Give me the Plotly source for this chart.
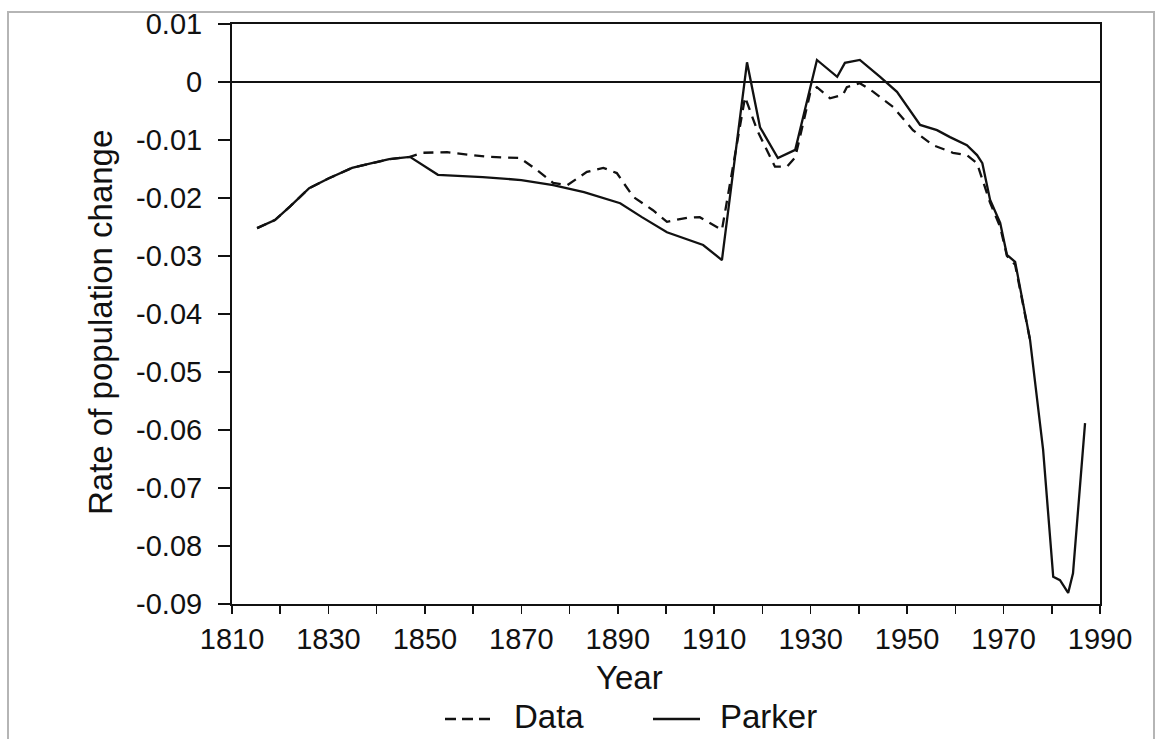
import plotly.graph_objects as go

# ---- data ----
parker_years = [1815.2, 1818.9, 1822, 1826, 1830.1, 1834.9, 1839, 1842.6, 1846.9, 1852.7,
                1862, 1870, 1876.6, 1883, 1890.5, 1895, 1900.2, 1907.7, 1911.6, 1916.8,
                1919.5, 1923.2, 1926.8, 1931.3, 1935.5, 1937.1, 1940.2, 1944.4, 1947.9,
                1952.7, 1956.2, 1958.9, 1962.4, 1964.5, 1965.6, 1967.2, 1969.3, 1970.7,
                1972.4, 1975.5, 1978.2, 1980.3, 1981.7, 1983.4, 1984.4, 1986.9]
parker_vals = [-0.0252, -0.0238, -0.0215, -0.0183, -0.0166, -0.0148, -0.0140, -0.0133, -0.0129, -0.0160,
               -0.0164, -0.0169, -0.0178, -0.0190, -0.0209, -0.0233, -0.0259, -0.0281, -0.0307, 0.0034,
               -0.0078, -0.0131, -0.0117, 0.0038, 0.0009, 0.0033, 0.0038, 0.0009, -0.0017,
               -0.0074, -0.0083, -0.0095, -0.0109, -0.0126, -0.0140, -0.0203, -0.0243, -0.0298,
               -0.0310, -0.0445, -0.0634, -0.0853, -0.0859, -0.0881, -0.0847, -0.0588]

data_years = [1815.2, 1818.9, 1822, 1826, 1830.1, 1834.9, 1839, 1842.6, 1846.9, 1849.6,
              1854.6, 1862.9, 1869.7, 1873.3, 1876.6, 1879.5, 1883.6, 1887, 1889.8, 1893.2,
              1897.3, 1900.2, 1904.4, 1907, 1911.6, 1916.4, 1918.9, 1922.6, 1925.1, 1926.8,
              1929.9, 1931.3, 1934, 1936.7, 1937.5, 1940.2, 1943, 1947.1, 1951.2, 1955.4,
              1959.5, 1962.4, 1964.5, 1967.2, 1969.3, 1970.7, 1972.4, 1975.5]
data_vals = [-0.0252, -0.0238, -0.0215, -0.0183, -0.0166, -0.0148, -0.0140, -0.0133, -0.0129, -0.0122,
             -0.0121, -0.0129, -0.0131, -0.0152, -0.0174, -0.0178, -0.0155, -0.0148, -0.0157, -0.0198,
             -0.0221, -0.0241, -0.0234, -0.0233, -0.0255, -0.0026, -0.0083, -0.0146, -0.0146, -0.0130,
             -0.0019, -0.0009, -0.0028, -0.0022, -0.0009, -0.0002, -0.0017, -0.0043, -0.0083, -0.0109,
             -0.0122, -0.0126, -0.0140, -0.0208, -0.0250, -0.0300, -0.0315, -0.0445]

series_names = ["Data", "Parker"]

x_tickvals = list(range(1810, 1991, 10))
x_ticktext = [str(v) if (v - 1810) % 20 == 0 else "" for v in x_tickvals]
y_tickvals = [0.01, 0, -0.01, -0.02, -0.03, -0.04, -0.05, -0.06, -0.07, -0.08, -0.09]
y_ticktext = ["0.01", "0", "-0.01", "-0.02", "-0.03", "-0.04", "-0.05", "-0.06", "-0.07", "-0.08", "-0.09"]

FONT = "Liberation Sans, Arial, sans-serif"
INK = "#111111"
DASH = "10px,7px"

fig = go.Figure()
fig.add_trace(go.Scatter(x=data_years, y=data_vals, mode="lines", name=series_names[0],
                         showlegend=False, line=dict(color=INK, width=2.3, dash=DASH)))
fig.add_trace(go.Scatter(x=parker_years, y=parker_vals, mode="lines", name=series_names[1],
                         showlegend=False, line=dict(color=INK, width=2.3)))

# body margin is removed by the post script below, so the figure fills the window
W, H = 1156, 739
PL, PT, PR, PB = 232, 24, 1100, 604          # plot area in screenshot pixels
L, T = PL, PT
pw, ph = PR - PL, PB - PT
R, B = W - L - pw, H - T - ph

def px(x):
    return (x - L) / pw

def py(y):
    return (T + ph - y) / ph

LEG_Y = 717

fig.update_layout(
    width=W, height=H,
    margin=dict(l=L, r=R, t=T, b=B, autoexpand=False),
    paper_bgcolor="white", plot_bgcolor="white",
    font=dict(family=FONT, size=29, color=INK),
    showlegend=False,
    xaxis=dict(range=[1810, 1990], tickvals=x_tickvals, ticktext=x_ticktext, automargin=False,
               showgrid=False, zeroline=False, showline=True, linecolor=INK, linewidth=2,
               mirror=True, ticks="outside", ticklen=8, tickwidth=1.5, tickcolor=INK,
               tickfont=dict(size=29)),
    yaxis=dict(range=[-0.09, 0.01], tickvals=y_tickvals, ticktext=y_ticktext, automargin=False,
               showgrid=False, zeroline=True, zerolinecolor=INK, zerolinewidth=1.5,
               showline=True, linecolor=INK, linewidth=2, mirror=True,
               ticks="outside", ticklen=12, tickwidth=1.5, tickcolor=INK,
               ticklabelstandoff=10, tickfont=dict(size=29)),
    annotations=[
        dict(text="Year", xref="paper", yref="paper", x=px(629), y=py(677),
             xanchor="center", yanchor="middle", showarrow=False, font=dict(size=33)),
        dict(text="Rate of population change", xref="paper", yref="paper", x=px(100), y=py(323),
             xanchor="center", yanchor="middle", textangle=-90, showarrow=False, font=dict(size=33)),
        dict(text=series_names[0], xref="paper", yref="paper", x=px(512), y=py(LEG_Y),
             xanchor="left", yanchor="middle", showarrow=False, font=dict(size=33)),
        dict(text=series_names[1], xref="paper", yref="paper", x=px(718), y=py(LEG_Y),
             xanchor="left", yanchor="middle", showarrow=False, font=dict(size=33)),
    ],
    shapes=[
        dict(type="rect", xref="paper", yref="paper", x0=px(8), x1=px(1154), y0=py(770), y1=py(12),
             line=dict(color="#b5b5b5", width=2), fillcolor="rgba(0,0,0,0)", layer="below"),
        dict(type="line", xref="paper", yref="paper", x0=px(445), x1=px(492), y0=py(LEG_Y + 2), y1=py(LEG_Y + 2),
             line=dict(color=INK, width=2.3, dash="11px,6px")),
        dict(type="line", xref="paper", yref="paper", x0=px(653), x1=px(700), y0=py(LEG_Y + 2), y1=py(LEG_Y + 2),
             line=dict(color=INK, width=2.3)),
    ],
)

fig.write_html(
    "out.html",
    config={"displayModeBar": False, "staticPlot": True},
    post_script="document.body.style.margin='0';document.body.style.overflow='hidden';",
)
